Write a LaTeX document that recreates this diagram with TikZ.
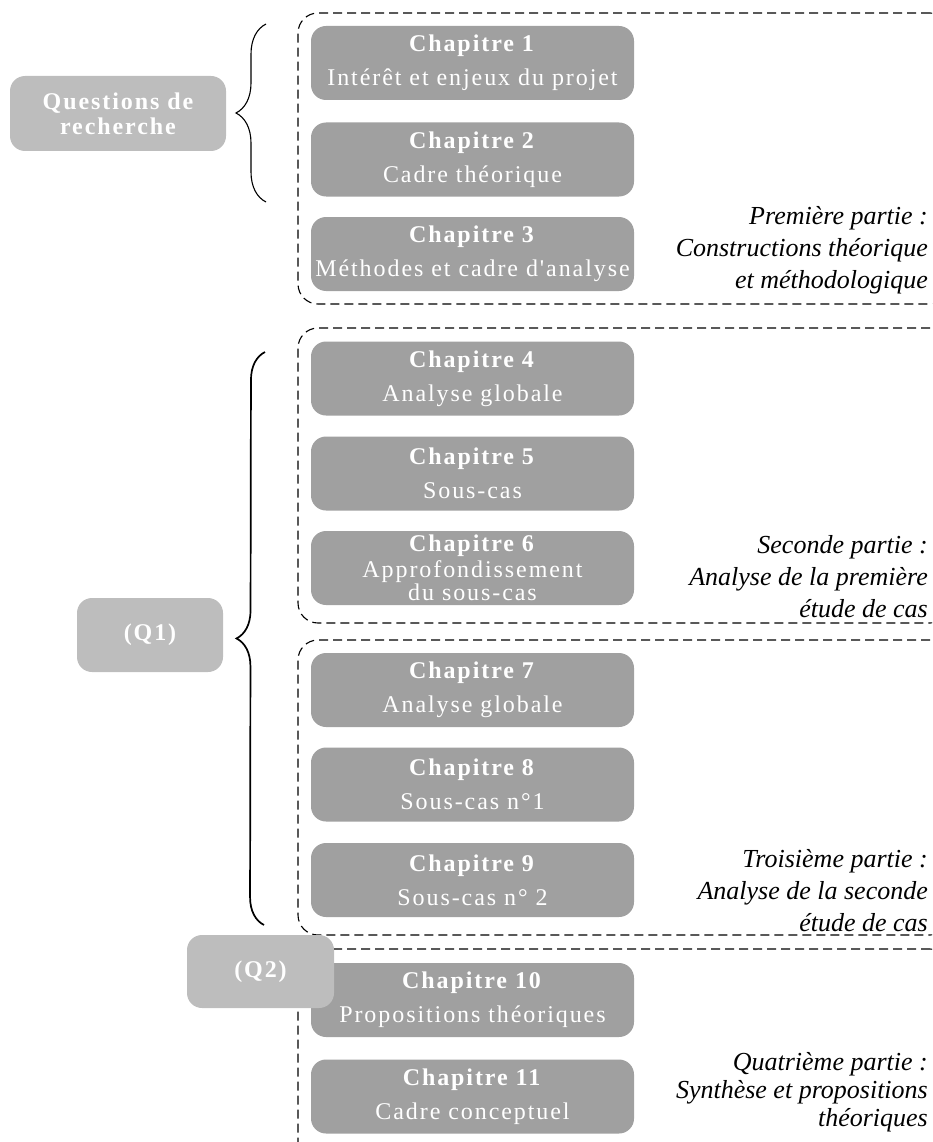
\documentclass[tikz,border=0pt]{standalone}
\usepackage{fontspec}
\setmainfont{Liberation Serif}
\newfontfamily\boxfont[LetterSpace=8]{Liberation Serif}
\newfontfamily\qfont[LetterSpace=8]{Liberation Serif}
\usetikzlibrary{decorations.pathreplacing}
\definecolor{chapgray}{HTML}{A0A0A0}
\definecolor{qgray}{HTML}{BDBDBD}
\tikzset{
  chapbox/.style={fill=chapgray, rounded corners=15pt, text=white, align=center,
    font=\boxfont\fontsize{24}{26}\selectfont, minimum width=323pt, minimum height=74pt, inner sep=0pt},
  qbox/.style={fill=qgray, rounded corners=15pt, text=white, align=center,
    font=\qfont\bfseries\fontsize{24}{25}\selectfont, inner sep=0pt},
  partframe/.style={draw=black, dash pattern=on 9pt off 5pt, line width=1.1pt, rounded corners=20pt,
    minimum width=652pt, inner sep=0pt},
  partlabel/.style={anchor=east, align=right, inner sep=0pt, font=\itshape\fontsize{26}{32}\selectfont},
  bracestyle/.style={decorate, decoration={brace, amplitude=30pt, aspect=0.5}, line width=1.1pt},
}
\begin{document}
\begin{tikzpicture}[x=1pt,y=-1pt]
\useasboundingbox (0,0) rectangle (932,1142);
\clip (0,0) rectangle (932,1142);

% dashed part frames
\node[partframe, minimum height=291pt] (p1) at (624,158.5) {};
\node[partframe, minimum height=295pt] (p2) at (624,475.5) {};
\node[partframe, minimum height=295pt] (p3) at (624,787.5) {};
\node[partframe, minimum height=230pt] (p4) at (624,1064) {};

% chapter boxes
\node[chapbox] (c1) at (472.5,63) {\textbf{Chapitre 1}\\[8pt]Intérêt et enjeux du projet};
\node[chapbox] (c2) at (472.5,159.5) {\textbf{Chapitre 2}\\[8pt]Cadre théorique};
\node[chapbox] (c3) at (472.5,254) {\textbf{Chapitre 3}\\[8pt]Méthodes et cadre d'analyse};
\node[chapbox] (c4) at (472.5,378.5) {\textbf{Chapitre 4}\\[8pt]Analyse globale};
\node[chapbox] (c5) at (472.5,473.5) {\textbf{Chapitre 5}\\[8pt]Sous-cas};
\node[chapbox, font=\boxfont\fontsize{24}{24}\selectfont] (c6) at (472.5,568) {\textbf{Chapitre 6}\\[2pt]Approfondissement\\[-1pt]du sous-cas};
\node[chapbox] (c7) at (472.5,690) {\textbf{Chapitre 7}\\[8pt]Analyse globale};
\node[chapbox] (c8) at (472.5,784.5) {\textbf{Chapitre 8}\\[8pt]Sous-cas n°1};
\node[chapbox] (c9) at (472.5,880) {\textbf{Chapitre 9}\\[8pt]Sous-cas n° 2};
\node[chapbox] (c10) at (472.5,1000) {\textbf{Chapitre 10}\\[8pt]Propositions théoriques};
\node[chapbox] (c11) at (472.5,1096.5) {\textbf{Chapitre 11}\\[8pt]Cadre conceptuel};

% question boxes
\node[qbox, minimum width=216pt, minimum height=75pt] (qr) at (118,113.5) {Questions de\\recherche};
\node[qbox, minimum width=146pt, minimum height=74pt] (q1) at (150,635) {(Q1)};
\node[qbox, minimum width=147pt, minimum height=73pt] (q2) at (260.5,971.5) {(Q2)};

% part labels
\node[partlabel] (l1) at (928,250) {Première partie :\\Constructions théorique\\et méthodologique};
\node[partlabel] (l2) at (928,577) {Seconde partie :\\Analyse de la première\\étude de cas};
\node[partlabel] (l3) at (928,891) {Troisième partie :\\Analyse de la seconde\\étude de cas};
\node[partlabel, font=\itshape\fontsize{26}{28}\selectfont] (l4) at (928,1092) {Quatrième partie :\\Synthèse et propositions\\théoriques};

% braces
\coordinate (b1s) at (266,202);
\coordinate (b1e) at (266,24);
\draw[bracestyle] (b1s) -- (b1e);
\coordinate (b2s) at (264,925);
\coordinate (b2e) at (265,352);
\draw[bracestyle, decoration={amplitude=28pt}, line width=1.7pt] (b2s) -- (b2e);
\end{tikzpicture}
\end{document}
